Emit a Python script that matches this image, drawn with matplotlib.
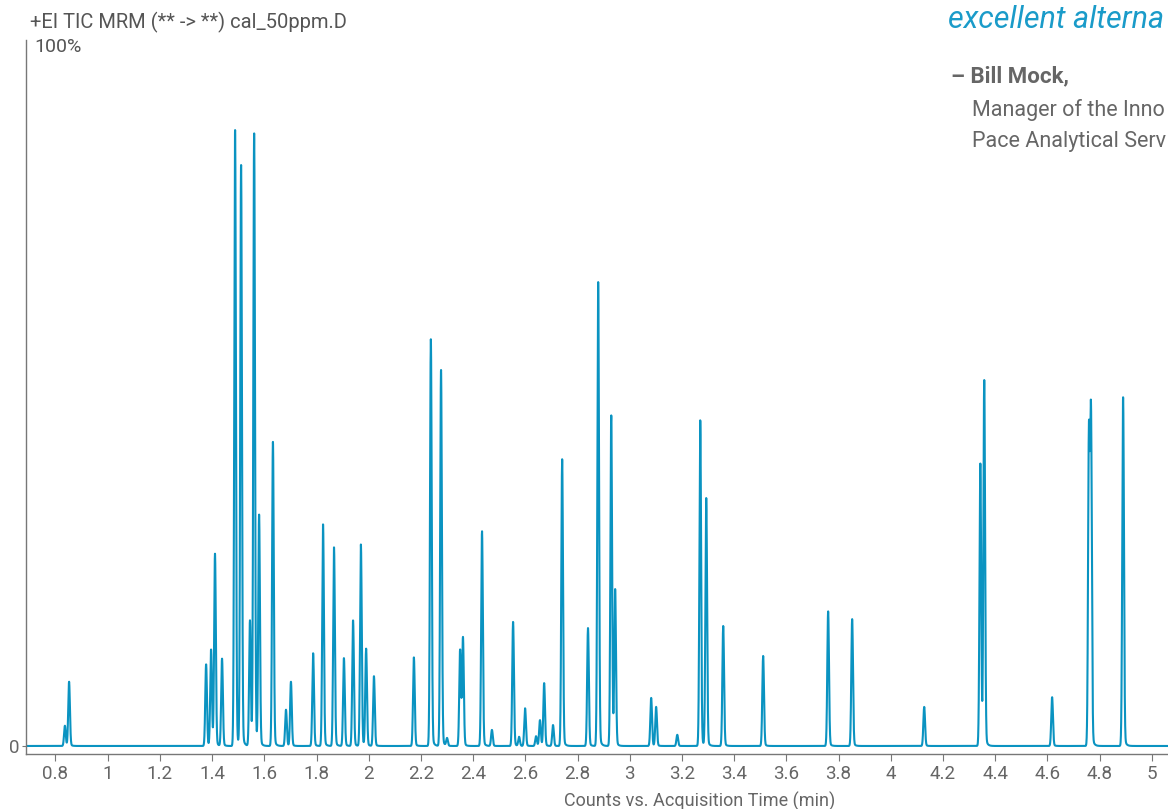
import numpy as np
import matplotlib
matplotlib.use("Agg")
import matplotlib.pyplot as plt

plt.rcParams['font.family'] = ['Roboto', 'DejaVu Sans']

peak_times = [0.836, 0.852, 1.377, 1.396, 1.411, 1.438, 1.488, 1.511, 1.545, 1.561, 1.580,
              1.633, 1.683, 1.702, 1.787, 1.825, 1.867, 1.905, 1.940, 1.970, 1.990, 2.020,
              2.173, 2.238, 2.277, 2.300, 2.350, 2.361, 2.434, 2.472, 2.553, 2.576, 2.599,
              2.641, 2.656, 2.672, 2.706, 2.741, 2.840, 2.879, 2.929, 2.944, 3.082, 3.101,
              3.182, 3.270, 3.293, 3.358, 3.511, 3.760, 3.852, 4.128, 4.343, 4.358, 4.618,
              4.759, 4.767, 4.890]
peak_heights = [2.9, 9.2, 11.7, 13.8, 27.5, 12.5, 88.3, 83.2, 18.0, 87.8, 33.0,
                43.6, 5.2, 9.2, 13.3, 31.8, 28.5, 12.6, 18.0, 28.9, 13.9, 10.0,
                12.7, 58.3, 53.9, 1.1, 13.8, 15.5, 30.8, 2.3, 17.8, 1.3, 5.4,
                1.4, 3.7, 9.0, 3.0, 41.1, 16.9, 66.5, 47.4, 22.3, 6.9, 5.6,
                1.6, 46.7, 35.5, 17.2, 12.9, 19.3, 18.2, 5.6, 40.5, 52.3, 7.0,
                44.3, 46.8, 50.0]
x_ticks = [0.8, 1, 1.2, 1.4, 1.6, 1.8, 2, 2.2, 2.4, 2.6, 2.8, 3, 3.2, 3.4, 3.6, 3.8,
           4, 4.2, 4.4, 4.6, 4.8, 5]
x_tick_labels = ['0.8', '1', '1.2', '1.4', '1.6', '1.8', '2', '2.2', '2.4', '2.6', '2.8', '3',
                 '3.2', '3.4', '3.6', '3.8', '4', '4.2', '4.4', '4.6', '4.8', '5']

t = np.linspace(0.687, 5.07, 12000)
sig = np.zeros_like(t)
for c, h in zip(peak_times, peak_heights):
    g = np.exp(-0.5 * ((t - c) / 0.0032) ** 2)
    tail = np.where(t > c, np.exp(-(t - c) / 0.006), 0) * 0.05
    sig += h * (g + tail * (1 - g))

W, H = 1168, 809
fig = plt.figure(figsize=(W / 100, H / 100), dpi=100)
ax = fig.add_axes([26 / W, 1 - 754 / H, (W - 26) / W, (754 - 40) / H])
ax.plot(t, sig, color='#0a93c1', lw=1.5)
ax.set_xlim(0.687, 5.062)
ax.set_ylim(-1.15, 101.2)
for s in ['top', 'right']:
    ax.spines[s].set_visible(False)
for s in ['left', 'bottom']:
    ax.spines[s].set_color('#777777')
    ax.spines[s].set_linewidth(1.0)
ax.set_xticks(x_ticks)
ax.set_xticklabels(x_tick_labels)
ax.set_yticks([0])
ax.set_yticklabels(['0'])
ax.tick_params(axis='x', colors='#777777', labelsize=13.5, length=5, labelcolor='#666666', pad=3)
ax.tick_params(axis='y', colors='#777777', labelsize=13.5, length=3, labelcolor='#666666', pad=2)

fig.text(700 / W, 1 - 801 / H, 'Counts vs. Acquisition Time (min)', fontsize=13, color='#666666',
         ha='center', va='center')
fig.text(30 / W, 1 - 22 / H, '+EI TIC MRM (** -> **) cal_50ppm.D', fontsize=14.5, color='#555555', va='center')
fig.text(34 / W, 1 - 47 / H, '100%', fontsize=14, color='#555555', va='center')
fig.text(948 / W, 1 - 19 / H, 'excellent alterna', fontsize=22, color='#1a9bc9', style='italic', va='center')
fig.text(951 / W, 1 - 76 / H, '– Bill Mock,', fontsize=16, color='#666666', weight='bold', va='center')
fig.text(972 / W, 1 - 110 / H, 'Manager of the Inno', fontsize=15.5, color='#666666', va='center')
fig.text(972 / W, 1 - 142 / H, 'Pace Analytical Serv', fontsize=15.5, color='#666666', va='center')

fig.savefig('out.png', dpi=100)
